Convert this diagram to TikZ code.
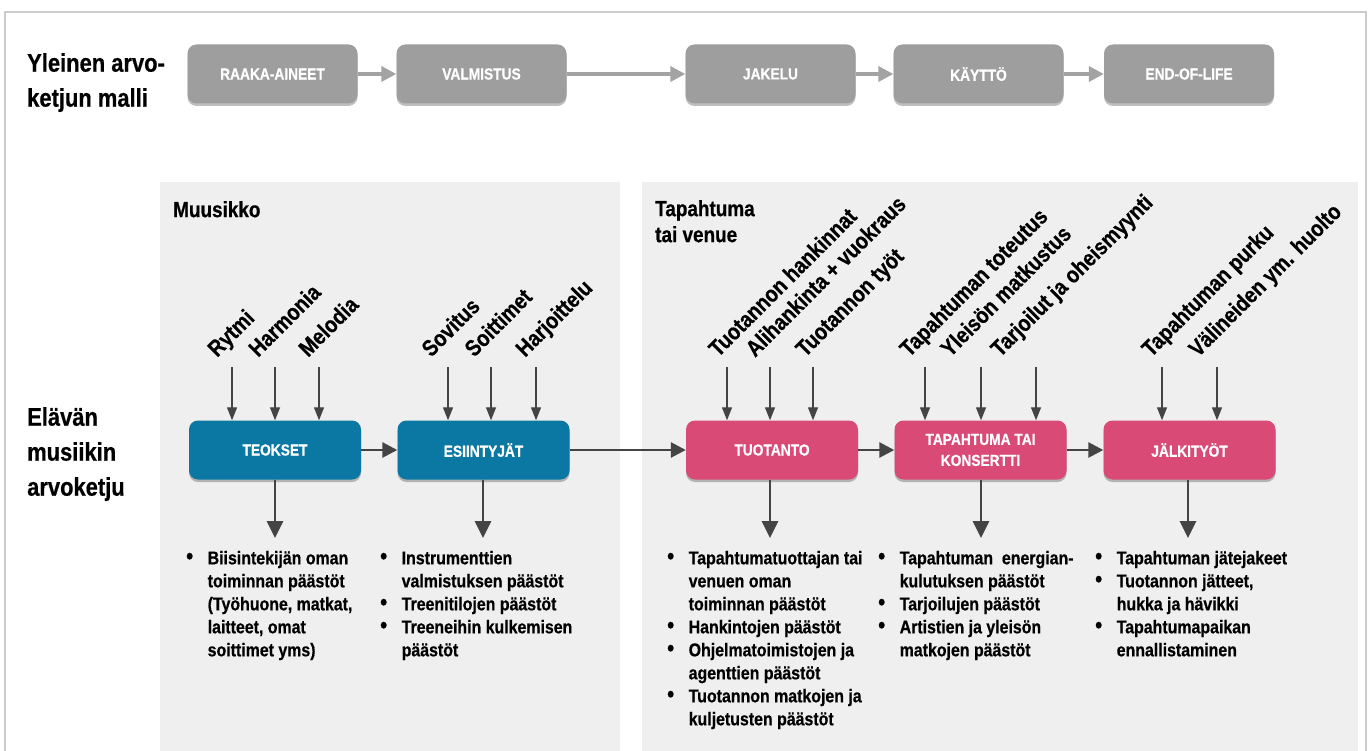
\documentclass[tikz,border=0pt]{standalone}
\usepackage{fontspec}
\setmainfont{Liberation Sans}[FakeStretch=0.86, BoldFeatures={FakeBold=0.6}]
\usetikzlibrary{arrows.meta,shadows}
\definecolor{boxgray}{HTML}{9E9E9E}
\definecolor{arrgray}{HTML}{A3A3A3}
\definecolor{tealblue}{HTML}{0A78A2}
\definecolor{rosered}{HTML}{D94A77}
\definecolor{panelgray}{HTML}{EFEFEF}
\definecolor{bordergray}{HTML}{CCCCCC}
\definecolor{darkarrow}{HTML}{444444}
\newcommand{\bul}{\makebox[21.5pt][l]{\raisebox{0.5pt}{\scalebox{1.25}{\textbullet}}}}
\begin{document}
\begin{tikzpicture}[x=1pt,y=-1pt,
  chainbox/.style={rectangle, rounded corners=9pt, minimum width=170pt, minimum height=59pt,
    text=white, align=center, font=\bfseries\fontsize{16}{21}\selectfont,
    drop shadow={shadow xshift=0pt, shadow yshift=-2.5pt, opacity=0.25, fill=black}},
  graybox/.style={chainbox, fill=boxgray},
  tealbox/.style={chainbox, fill=tealblue, minimum width=172pt},
  pinkbox/.style={chainbox, fill=rosered, minimum width=172pt},
  toparrow/.style={draw=arrgray, line width=3.5pt, -{Triangle[width=15pt,length=15pt]}},
  flowarrow/.style={draw=darkarrow, line width=2.8pt, -{Triangle[width=15pt,length=15pt]}},
  downarrow/.style={draw=darkarrow, line width=2.8pt, -{Triangle[width=16pt,length=17pt]}},
  inarrow/.style={draw=darkarrow, line width=1.3pt, -{Triangle[width=10pt,length=13pt]}},
  rowlabel/.style={anchor=north west, inner sep=0pt, align=left, font=\bfseries\fontsize{25.5}{35}\selectfont},
  paneltitle/.style={anchor=north west, inner sep=0pt, align=left, font=\bfseries\fontsize{22}{26}\selectfont},
  inlabel/.style={rotate=45, anchor=base west, inner sep=0pt, font=\bfseries\fontsize{22.8}{24}\selectfont},
  bullets/.style={anchor=north west, inner sep=0pt, font=\bfseries\fontsize{18.5}{23}\selectfont}
]
\useasboundingbox (0,0) rectangle (1372,751);
\fill[white] (0,0) rectangle (1372,751);
\begin{scope}
\clip (0,0) rectangle (1372,751);
\draw[bordergray, line width=1.5pt] (5,12) rectangle (1366,770);
\fill[panelgray] (160,182) rectangle (620,770);
\fill[panelgray] (642,182) rectangle (1358,770);
\end{scope}

% row labels
\node[rowlabel] (lab1) at (27,53) {Yleinen arvo-\\ketjun malli};
\node[rowlabel] (lab2) at (27,407) {Elävän\\musiikin\\arvoketju};
\node[paneltitle] (p1) at (173,201) {Muusikko};
\node[paneltitle] (p2) at (655,200) {Tapahtuma\\tai venue};

% top chain
\node[graybox] (raaka) at (272.5,74) {RAAKA-AINEET};
\node[graybox] (valm) at (481.5,74) {VALMISTUS};
\node[graybox] (jakelu) at (770.5,74) {JAKELU};
\node[graybox] (kaytto) at (978.5,74) {KÄYTTÖ};
\node[graybox] (eol) at (1189,74) {END-OF-LIFE};
\draw[toparrow] (raaka) -- (valm);
\draw[toparrow] (valm) -- (jakelu);
\draw[toparrow] (jakelu) -- (kaytto);
\draw[toparrow] (kaytto) -- (eol);

% bottom chain
\node[tealbox] (teokset) at (275,450) {TEOKSET};
\node[tealbox] (esiin) at (483.5,450) {ESIINTYJÄT};
\node[pinkbox] (tuot) at (772,450) {TUOTANTO};
\node[pinkbox] (tapa) at (980.5,450) {TAPAHTUMA TAI\\KONSERTTI};
\node[pinkbox] (jalki) at (1189.5,450) {JÄLKITYÖT};
\draw[flowarrow] (teokset) -- (esiin);
\draw[flowarrow] (esiin) -- (tuot);
\draw[flowarrow] (tuot) -- (tapa);
\draw[flowarrow] (tapa) -- (jalki);

% input arrows and labels
\foreach \nm/\xx/\off/\bx/\txt in {
  rytmi/232/15/teokset/Rytmi, harm/275/17/teokset/Harmonia, melo/319/11/teokset/Melodia,
  sov/448/17/esiin/Sovitus, soit/491/17/esiin/Soittimet, harj/536/11/esiin/Harjoittelu,
  hank/727/9/tuot/Tuotannon hankinnat, ali/770/15/tuot/Alihankinta + vuokraus, tyot/813/8/tuot/Tuotannon työt,
  tot/925/16/tapa/Tapahtuman toteutus, yle/981/31/tapa/Yleisön matkustus, tarj/1036/36/tapa/Tarjoilut ja oheismyynti,
  purku/1162/11/jalki/Tapahtuman purku, vali/1217/19/jalki/Välineiden ym. huolto}{
  \node[inlabel] (\nm-l) at (\xx-\off,358) {\txt};
  \coordinate (\nm-s) at (\xx,367);
  \draw[inarrow] (\nm-s) -- (\nm-s |- \bx.north);
}

% output arrows
\foreach \bx/\xx in {teokset/275, esiin/483, tuot/770, tapa/981, jalki/1188}{
  \coordinate (\bx-o) at (\xx,538);
  \draw[downarrow] (\bx.south -| \bx-o) -- (\bx-o);
}

% bullet lists
\node[bullets] (b1) at (186,548) {\begin{tabular}{@{}l@{}l@{}}
\bul & Biisintekijän oman\\
 & toiminnan päästöt\\
 & (Työhuone, matkat,\\
 & laitteet, omat\\
 & soittimet yms)
\end{tabular}};
\node[bullets] (b2) at (380,548) {\begin{tabular}{@{}l@{}l@{}}
\bul & Instrumenttien\\
 & valmistuksen päästöt\\
\bul & Treenitilojen päästöt\\
\bul & Treeneihin kulkemisen\\
 & päästöt
\end{tabular}};
\node[bullets] (b3) at (667,548) {\begin{tabular}{@{}l@{}l@{}}
\bul & Tapahtumatuottajan tai\\
 & venuen oman\\
 & toiminnan päästöt\\
\bul & Hankintojen päästöt\\
\bul & Ohjelmatoimistojen ja\\
 & agenttien päästöt\\
\bul & Tuotannon matkojen ja\\
 & kuljetusten päästöt
\end{tabular}};
\node[bullets] (b4) at (878,548) {\begin{tabular}{@{}l@{}l@{}}
\bul & Tapahtuman\ \ energian-\\
 & kulutuksen päästöt\\
\bul & Tarjoilujen päästöt\\
\bul & Artistien ja yleisön\\
 & matkojen päästöt
\end{tabular}};
\node[bullets] (b5) at (1095,548) {\begin{tabular}{@{}l@{}l@{}}
\bul & Tapahtuman jätejakeet\\
\bul & Tuotannon jätteet,\\
 & hukka ja hävikki\\
\bul & Tapahtumapaikan\\
 & ennallistaminen
\end{tabular}};
\end{tikzpicture}
\end{document}
